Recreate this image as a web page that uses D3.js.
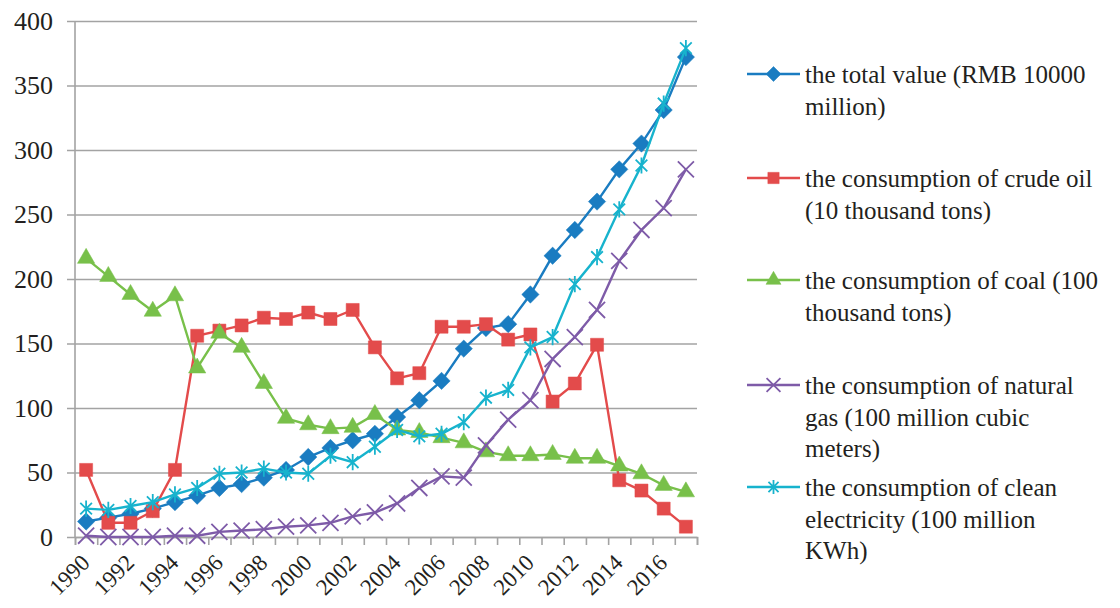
<!DOCTYPE html>
<html>
<head>
<meta charset="utf-8">
<script src="https://cdn.jsdelivr.net/npm/d3@7"></script>
</head>
<body style="margin:0">
<script>
// ------------------- //
// DATA
// ------------------- //

var years = d3.range(1990, 2018)
var yTicks = [0, 50, 100, 150, 200, 250, 300, 350, 400]
var xLabels = [1990, 1992, 1994, 1996, 1998, 2000, 2002, 2004, 2006, 2008, 2010, 2012, 2014, 2016]

var totalValue = [12, 15, 18, 22, 27, 32, 38, 41, 46, 52, 62, 69, 75, 80, 93, 106, 121, 146, 162, 165, 188, 218, 238, 260, 285, 305, 331, 372]
var crudeOil   = [52, 11, 11, 20, 52, 156, 160, 164, 170, 169, 174, 169, 176, 147, 123, 127, 163, 163, 165, 153, 157, 105, 119, 149, 44, 36, 22, 8]
var coal       = [216, 202, 188, 175, 187, 131, 158, 147, 119, 92, 87, 84, 85, 95, 83, 81, 77, 73, 66, 63, 63, 64, 61, 61, 55, 49, 40, 35]
var naturalGas = [1, 0, 0, 0, 1, 1, 4, 5, 6, 8, 9, 11, 16, 19, 26, 38, 47, 46, 71, 91, 106, 138, 155, 176, 214, 238, 255, 285]
var cleanElec  = [22, 21, 24, 27, 33, 38, 49, 50, 53, 50, 49, 63, 58, 70, 83, 78, 80, 89, 108, 114, 147, 155, 196, 217, 254, 288, 336, 379]

var seriesNames = [
  ["the total value (RMB 10000", "million)"],
  ["the consumption of crude oil", "(10 thousand tons)"],
  ["the consumption of coal (100", "thousand tons)"],
  ["the consumption of natural", "gas (100 million cubic", "meters)"],
  ["the consumption of clean", "electricity (100 million", "KWh)"]
]

// square diamond (d3's own is too narrow)
var symbolRhomb = {
  draw: function(ctx, size) {
    var r = Math.sqrt(size / 2)
    ctx.moveTo(0, -r); ctx.lineTo(r, 0); ctx.lineTo(0, r); ctx.lineTo(-r, 0); ctx.closePath()
  }
}

// six spoke star like the spreadsheet marker
var symbolStar = {
  draw: function(ctx, size) {
    var r = Math.sqrt(size) * 0.62, d = r * 0.72
    ctx.moveTo(0, -r); ctx.lineTo(0, r)
    ctx.moveTo(-d, -d); ctx.lineTo(d, d)
    ctx.moveTo(-d, d); ctx.lineTo(d, -d)
  }
}

var series = [
  {values: totalValue, color: "#1a7cc1", symbol: symbolRhomb,    size: 150, fill: true},
  {values: crudeOil,   color: "#e34b4b", symbol: d3.symbolSquare,  size: 170, fill: true},
  {values: coal,       color: "#78c04a", symbol: d3.symbolTriangle, size: 130, fill: true},
  {values: naturalGas, color: "#7e5ba8", symbol: d3.symbolX,       size: 170, fill: false},
  {values: cleanElec,  color: "#17b3cd", symbol: symbolStar,       size: 170, fill: false}
]

// ------------------- //
// SVG AND SCALES
// ------------------- //

var W = 1120, H = 608
var plot = {left: 75, right: 697, top: 21, bottom: 537}
var FONT = "'Liberation Serif'"

var svg = d3.select("body")
  .append("svg")
    .attr("width", W)
    .attr("height", H)

var x = d3.scaleBand()
    .domain(years)
    .range([plot.left, plot.right])

var xEdge = d3.scaleLinear()
    .domain([0, years.length])
    .range([plot.left, plot.right])

var y = d3.scaleLinear()
    .domain([0, 400])
    .range([plot.bottom, plot.top])

// grid lines + y labels
var yAxis = svg.append("g")
    .attr("transform", "translate(" + plot.right + ",0)")
    .call(d3.axisLeft(y).tickValues(yTicks).tickSize(plot.right - plot.left + 8).tickFormat(d3.format("d")))
yAxis.select(".domain").remove()
yAxis.selectAll(".tick line").attr("stroke", "#a3a3a3").attr("stroke-width", 1.6)
yAxis.selectAll(".tick text")
    .attr("x", -(plot.right - plot.left) - 22)
    .style("font-family", FONT)
    .style("font-size", "26px")
    .attr("fill", "#231f20")

// vertical axis line
svg.append("line")
    .attr("x1", plot.left).attr("x2", plot.left)
    .attr("y1", plot.top).attr("y2", plot.bottom)
    .attr("stroke", "#a3a3a3").attr("stroke-width", 1.6)

// bottom ticks between categories
var xTickAxis = svg.append("g")
    .attr("transform", "translate(0," + plot.bottom + ")")
    .call(d3.axisBottom(xEdge).tickValues(d3.range(0, years.length + 1)).tickSize(8).tickFormat(""))
xTickAxis.select(".domain").attr("stroke", "#a3a3a3").attr("stroke-width", 1.6)
xTickAxis.selectAll(".tick line").attr("stroke", "#a3a3a3").attr("stroke-width", 1.6)

// year labels, rotated
var xAxis = svg.append("g")
    .attr("transform", "translate(0," + plot.bottom + ")")
    .call(d3.axisBottom(x).tickValues(xLabels).tickSize(0))
xAxis.select(".domain").remove()
xAxis.selectAll(".tick text")
    .style("font-family", FONT)
    .style("font-size", "23px")
    .attr("fill", "#231f20")
    .attr("text-anchor", "end")
    .attr("y", 0)
    .attr("dy", 0)
    .attr("transform", "translate(5,27) rotate(-45)")

// ------------------- //
// LINES AND MARKERS
// ------------------- //

var line = d3.line()
    .x(function(d, i) { return x(years[i]) + x.bandwidth() / 2 })
    .y(function(d) { return y(d) })

series.forEach(function(s) {
  var g = svg.append("g")
  g.append("path")
    .datum(s.values)
    .attr("d", line)
    .attr("fill", "none")
    .attr("stroke", s.color)
    .attr("stroke-width", 2.4)
  g.selectAll("path.mk")
    .data(s.values)
    .enter()
    .append("path")
      .attr("class", "mk")
      .attr("transform", function(d, i) { return "translate(" + (x(years[i]) + x.bandwidth() / 2) + "," + y(d) + ")" })
      .attr("d", d3.symbol().type(s.symbol).size(s.size))
      .attr("fill", s.fill ? s.color : "none")
      .attr("stroke", s.color)
      .attr("stroke-width", s.fill ? 0.5 : 1.8)
})

// ------------------- //
// LEGEND
// ------------------- //

var legendY = [74, 178, 280, 385, 487]
var legend = svg.append("g")

series.forEach(function(s, i) {
  var g = legend.append("g").attr("transform", "translate(0," + legendY[i] + ")")
  g.append("line")
    .attr("x1", 747).attr("x2", 800)
    .attr("stroke", s.color).attr("stroke-width", 2.4)
  g.append("path")
    .attr("transform", "translate(773.5,0)")
    .attr("d", d3.symbol().type(s.symbol).size(s.size * 0.75))
    .attr("fill", s.fill ? s.color : "none")
    .attr("stroke", s.color)
    .attr("stroke-width", s.fill ? 0.5 : 1.8)
  g.selectAll("text")
    .data(seriesNames[i])
    .enter()
    .append("text")
      .attr("x", 805)
      .attr("y", function(d, j) { return 9 + j * 31.5 })
      .style("font-family", FONT)
      .style("font-size", "25px")
      .attr("fill", "#231f20")
      .text(function(d) { return d })
})
</script>
</body>
</html>
